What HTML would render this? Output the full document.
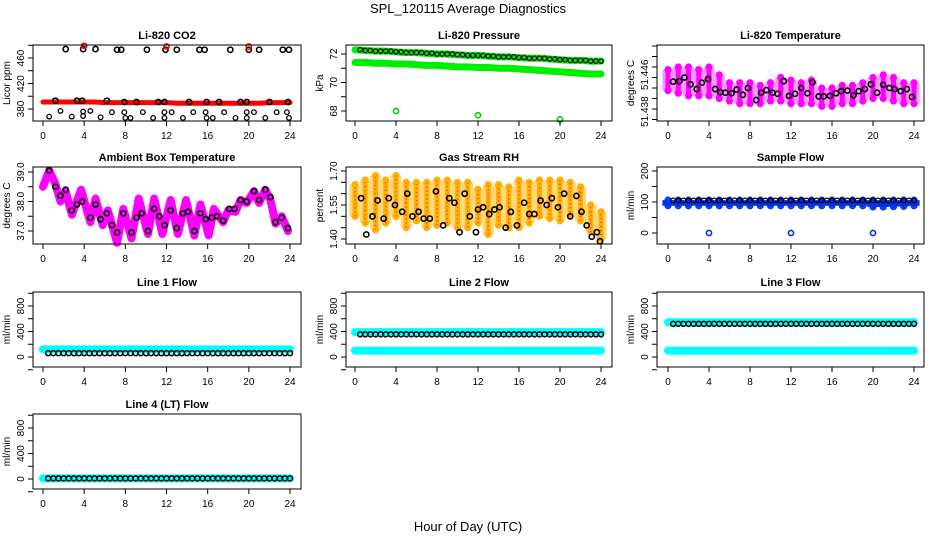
<!DOCTYPE html>
<html><head><meta charset="utf-8"><style>
html,body{margin:0;padding:0;background:#fff;}
svg{display:block;font-family:"Liberation Sans",sans-serif;}
</style></head><body>
<svg id="c" width="936" height="540" viewBox="0 0 936 540" xmlns="http://www.w3.org/2000/svg">
<text x="468" y="13" text-anchor="middle" font-size="13">SPL_120115  Average Diagnostics</text>
<text x="468" y="531" text-anchor="middle" font-size="13">Hour of Day (UTC)</text>
</svg>
<script>
// ---- data ----
const hoursTicks = [0,4,8,12,16,20,24];
// CO2
const co2RedBand = [391,391,391,391,391,391,390,390,390,390,390,390,390,389,389,389,389,389,389,389,389,389,390,390,390];
const co2TopH = [2.2,3.9,5.1,7.2,7.6,10.1,11.9,13,15.2,15.7,18.2,20,21,23.3,23.9];
const co2TopV = [474,474,474,473,473,473,473,473,473,473,473,473,473,473,473];
const co2RedH = [4,12,20];
const co2RedV = [479,478,478];
const co2MidH = [1.2,3.3,3.8,6.2,7.9,9.1,11.2,11.8,14.2,15.9,17.1,19.2,19.8,22,23.8];
const co2MidV = [393,393,393,393,391,391,391,391,391,391,391,391,391,391,391];
const co2LowH = [1.7,3.9,4.6,6.7,7.9,9.7,11.8,12.5,14.6,15.8,17.6,19.8,20.5,22.7,23.7,0.6,2.8,3.9,5.6,8.0,8.5,10.7,11.8,13.6,15.9,16.5,18.7,19.8,21.6,23.9];
const co2LowV = [377,376,377,375,375,375,375,375,375,375,375,375,375,375,375,368,368,369,367,366,366,366,366,366,366,366,366,366,366,366];
// Pressure
const presUpper = [72.3,72.25,72.2,72.2,72.15,72.1,72.1,72.05,72.0,72.0,71.95,71.9,71.9,71.85,71.8,71.8,71.75,71.7,71.7,71.65,71.6,71.55,71.55,71.5,71.5];
const presLower = [71.4,71.4,71.35,71.35,71.3,71.3,71.25,71.2,71.2,71.15,71.1,71.1,71.05,71.05,71.0,71.0,70.95,70.9,70.85,70.8,70.75,70.7,70.65,70.6,70.6];
const presOutH = [4,12,20];
const presOutV = [68.0,67.7,67.4];
// Li-820 temperature
const ltLow = [51.4415,51.441,51.4405,51.4405,51.4405,51.440,51.4395,51.439,51.439,51.439,51.4395,51.4395,51.439,51.439,51.439,51.4385,51.4385,51.439,51.439,51.4395,51.440,51.440,51.4395,51.439,51.439];
const ltHigh = [51.4455,51.446,51.446,51.4455,51.446,51.4445,51.443,51.443,51.443,51.4425,51.443,51.444,51.4435,51.443,51.4435,51.442,51.442,51.4425,51.4425,51.443,51.444,51.4445,51.444,51.443,51.443];
const ltBlkH = [0.5,1.1,1.6,2.2,2.8,3.3,3.9,4.6,5.1,5.6,6.2,6.7,7.3,7.8,8.6,9.1,9.6,10.2,10.7,11.3,11.8,12.4,13,13.6,14.1,14.7,15.2,15.8,16.4,16.9,17.5,18.1,18.6,19.2,19.8,20.4,21,21.6,22.1,22.7,23.3,23.8];
const ltBlkV = [51.4432,51.4433,51.4440,51.4427,51.4418,51.4430,51.4437,51.4418,51.4412,51.4411,51.4410,51.4417,51.4407,51.4420,51.4397,51.4411,51.4416,51.4411,51.4409,51.4433,51.4405,51.4409,51.4420,51.4410,51.4431,51.4404,51.4404,51.4405,51.4410,51.4414,51.4415,51.4406,51.4414,51.4418,51.4427,51.4411,51.4426,51.4420,51.4418,51.4414,51.4418,51.4403];
// Ambient box temperature
const ambH = [0,0.6,1.2,1.7,2.2,2.8,3.7,4.6,5.1,5.8,6.3,7.2,7.8,8.6,9.3,10.2,10.8,11.6,12.4,13.1,13.9,14.7,15.3,16.1,16.6,17.5,18,18.7,19.2,19.8,20.5,21,21.6,22.1,22.6,23.2,23.8];
const ambV = [38.5,39.05,38.6,38.0,38.35,37.55,38.4,37.3,38.1,37.2,37.7,36.6,37.75,36.75,38.1,36.9,38.1,36.9,38.05,36.9,38.05,36.85,37.9,36.85,37.75,37.3,37.7,37.65,38.05,37.95,38.35,37.95,38.4,38.05,37.25,37.5,37.0];
const ambBlkH = [0.6,1.2,1.7,2.2,2.8,3.3,3.8,4.6,5.1,5.6,6.2,6.7,7.2,7.8,8.6,9.1,9.6,10.2,10.8,11.3,11.8,12.4,13,13.6,14.1,14.7,15.3,15.8,16.4,16.9,17.5,18.1,18.6,19.2,19.8,20.5,21,21.6,22.1,22.6,23.2,23.8];
const ambBlkV = [39.05,38.5,38.2,38.4,37.7,37.9,38.0,37.45,37.9,37.4,37.6,37.2,36.95,37.6,36.95,37.45,37.6,37.0,37.75,37.5,37.2,37.7,37.1,37.6,37.65,37.0,37.6,37.4,37.45,37.5,37.35,37.75,37.75,38.05,38.0,38.35,38.05,38.4,38.15,37.3,37.45,37.1];
// Gas stream RH
const rhLow = [1.50,1.47,1.44,1.47,1.50,1.45,1.48,1.45,1.46,1.47,1.45,1.45,1.47,1.42,1.46,1.45,1.45,1.47,1.50,1.49,1.48,1.50,1.48,1.43,1.40];
const rhHigh = [1.64,1.66,1.68,1.66,1.68,1.65,1.65,1.65,1.66,1.66,1.65,1.65,1.62,1.64,1.64,1.63,1.66,1.65,1.66,1.66,1.66,1.65,1.63,1.55,1.52];
const rhBlkH = [0.6,1.1,1.7,2.2,2.8,3.3,3.9,4.6,5.1,5.6,6.2,6.7,7.3,7.9,8.6,9.2,9.7,10.2,10.7,11.2,11.8,12.0,12.5,13.1,13.6,14.1,14.7,15.2,15.8,16.5,17.0,17.5,18.1,18.7,19.2,19.8,20.4,21.0,21.6,22.1,22.6,23.1,23.6,23.9];
const rhBlkV = [1.58,1.42,1.50,1.57,1.49,1.58,1.55,1.52,1.60,1.50,1.52,1.49,1.49,1.61,1.46,1.58,1.56,1.43,1.60,1.50,1.43,1.53,1.54,1.51,1.53,1.54,1.45,1.52,1.46,1.56,1.51,1.51,1.57,1.55,1.58,1.54,1.60,1.50,1.59,1.52,1.46,1.41,1.43,1.39];
// Sample flow
const sfLow = [88,88,88,88,88,88,88,88,88,88,88,88,88,88,88,88,88,88,88,88,84,84,85,86,88];
const sfHigh = [106,106,106,106,106,106,106,106,106,106,106,106,106,106,106,106,106,106,106,106,106,106,106,106,106];
const sfBlkV = 105;
const sfOutH = [4,12,20];
const sfOutV = [0,0,0];
// Line flows
const l1Cyan = [120];     const l1Blk = 60;
const l2Cyan = [390,100]; const l2Blk = 355;
const l3Cyan = [545,100]; const l3Blk = 520;
const l4Cyan = [10];      const l4Blk = 10;

// ---- drawing helpers ----
const svg = document.getElementById('c');
const NS = 'http://www.w3.org/2000/svg';
function el(tag, attrs, parent){
  const e = document.createElementNS(NS, tag);
  for (const k in attrs) e.setAttribute(k, attrs[k]);
  (parent||svg).appendChild(e);
  return e;
}
const cols = [{l:33,r:301,x0:43,x24:290},{l:346,r:612,x0:355,x24:601},{l:657,r:924,x0:668,x24:914}];
const rows = [{t:45,b:121},{t:167,b:244},{t:292,b:367},{t:414,b:489}];

function panel(name, title, ylab, c, r, v1, p1, v2, p2, ticks, labels){
  const C = cols[c], R = rows[r];
  const g = el('g', {});
  
  
  const X = h => C.x0 + (C.x24 - C.x0) * h / 24;
  const Y = v => p1 + (p2 - p1) * (v - v1) / (v2 - v1);
  const t = el('text', {x:(C.l+C.r)/2, y:R.t-6, 'text-anchor':'middle', 'font-size':11, 'font-weight':'bold'}, g);
  t.textContent = title;
  
  
  const plot = el('g', {}, g);
  
  
  const box = el('rect', {x:C.l, y:R.t, width:C.r-C.l, height:R.b-R.t, fill:'none', stroke:'#000', 'stroke-width':1}, g);
  
  
  const xa = el('g', {}, g);
  
  
  hoursTicks.forEach(h => {
    el('line', {x1:X(h), x2:X(h), y1:R.b, y2:R.b+5, stroke:'#000'}, xa);
    const tt = el('text', {x:X(h), y:R.b+18, 'text-anchor':'middle', 'font-size':10}, xa);
    tt.textContent = h;
  });
  const ya = el('g', {}, g);
  
  
  ticks.forEach(v => el('line', {x1:C.l-5, x2:C.l, y1:Y(v), y2:Y(v), stroke:'#000'}, ya));
  labels.forEach(([v, s, off]) => {
    const yy = Y(v) + (off||0);
    const tt = el('text', {x:C.l-9, y:yy, 'text-anchor':'middle', 'font-size':10, transform:`rotate(-90 ${C.l-9} ${yy})`}, ya);
    tt.textContent = s;
  });
  const yl = el('text', {x:C.l-23, y:(R.t+R.b)/2, 'text-anchor':'middle', 'font-size':10, transform:`rotate(-90 ${C.l-23} ${(R.t+R.b)/2})`}, g);
  yl.textContent = ylab;
  
  
  return {X, Y, plot};
}
function circ(p, h, v, col, sw, r){
  el('circle', {cx:p.X(h), cy:p.Y(v), r:r||2.6, fill:'none', stroke:col, 'stroke-width':sw||1.6}, p.plot);
}
function band(p, arr, col, w){
  const pts = arr.map((v,i)=>p.X(i)+','+p.Y(v)).join(' ');
  el('polyline', {points:pts, fill:'none', stroke:col, 'stroke-width':w, 'stroke-linecap':'round', 'stroke-linejoin':'round'}, p.plot);
}
function range(p, lo, hi, col, w, fillCol){
  const step = p.X(1) - p.X(0);
  lo.forEach((v,i)=>{
    const x = p.X(i);
    el('line', {x1:x, x2:x, y1:p.Y(v), y2:p.Y(hi[i]), stroke:fillCol, 'stroke-width':step+1, 'stroke-linecap':'butt'}, p.plot);
  });
  lo.forEach((v,i)=>{
    const x = p.X(i);
    el('line', {x1:x, x2:x, y1:p.Y(v), y2:p.Y(hi[i]), stroke:col, 'stroke-width':w||6, 'stroke-linecap':'round'}, p.plot);
    circ(p, i, v, col, 1.6, 2.8);
    circ(p, i, hi[i], col, 1.6, 2.8);
  });
}

// CO2
let p = panel('co2', 'Li-820 CO2', 'Licor ppm', 0, 0, 460, 58, 380, 109, [380,400,420,440,460,480], [[380,'380'],[420,'420'],[460,'460']]);
band(p, co2RedBand, '#ff0000', 5);
co2TopH.forEach((h,i)=>circ(p,h,co2TopV[i],'#000'));
co2RedH.forEach((h,i)=>circ(p,h,co2RedV[i],'#ff0000'));
co2MidH.forEach((h,i)=>circ(p,h,co2MidV[i],'#000'));
co2LowH.forEach((h,i)=>circ(p,h,co2LowV[i],'#000',1.3,2.3));

// Pressure
p = panel('pressure', 'Li-820 Pressure', 'kPa', 1, 0, 72, 54, 68, 111, [68,69,70,71,72], [[72,'72'],[70,'70'],[68,'68']]);
band(p, presLower, '#00ee00', 7);
band(p, presUpper, '#00ee00', 7);
for (let i=0;i<48;i++){ const h=0.5+i*0.5; const k=Math.floor(h); circ(p,h,presUpper[Math.min(k,24)],'#000',1.2,2.2); }
presOutH.forEach((h,i)=>circ(p,h,presOutV[i],'#00cc00'));

// Li-820 temperature
p = panel('li820-temp', 'Li-820 Temperature', 'degrees C', 2, 0, 51.446, 67, 51.438, 109, [51.436,51.438,51.440,51.442,51.444,51.446,51.448,51.450], [[51.4445,'51.446'],[51.4375,'51.438']]);
range(p, ltLow, ltHigh, '#ff00ff', 5, '#ff99ff');
ltBlkH.forEach((h,i)=>circ(p,h,ltBlkV[i],'#000'));

// Ambient box temperature
p = panel('ambient-temp', 'Ambient Box Temperature', 'degrees C', 0, 1, 39, 172, 37, 231, [37,37.5,38,38.5,39], [[37,'37.0'],[38,'38.0'],[39,'39.0']]);
(function(){
  const pts = ambH.map((h,i)=>p.X(h)+','+p.Y(ambV[i])).join(' ');
  el('polyline', {points:pts, fill:'none', stroke:'#ff00ff', 'stroke-width':8, 'stroke-linejoin':'round', 'stroke-linecap':'round'}, p.plot);
})();
ambBlkH.forEach((h,i)=>circ(p,h,ambBlkV[i],'#000'));

// Gas stream RH
p = panel('gas-rh', 'Gas Stream RH', 'percent', 1, 1, 1.70, 171, 1.40, 239, [1.40,1.45,1.50,1.55,1.60,1.65,1.70], [[1.40,'1.40'],[1.55,'1.55'],[1.70,'1.70']]);
range(p, rhLow, rhHigh, '#ffb000', 5, '#ffd878');
for (let i=0;i<rhLow.length;i++){ el('line',{x1:p.X(i),x2:p.X(i),y1:p.Y(rhLow[i]),y2:p.Y(rhHigh[i]),stroke:'#ff3000','stroke-width':1.5,'stroke-dasharray':'1 3'},p.plot); }
rhBlkH.forEach((h,i)=>circ(p,h,rhBlkV[i],'#000'));

// Sample flow
p = panel('sample-flow', 'Sample Flow', 'ml/min', 2, 1, 200, 171, 0, 233, [0,50,100,150,200], [[0,'0'],[100,'100'],[200,'200']]);
range(p, sfLow, sfHigh, '#0033ee', 4, '#0033ee');
for (let i=0;i<48;i++) circ(p,0.5+i*0.5,sfBlkV,'#000',1.3,2.3);
sfOutH.forEach((h,i)=>circ(p,h,sfOutV[i],'#0033ee'));

// Line flows
const flowTicks = [-200,0,200,400,600,800,1000];
const flowLabels = [[0,'0'],[400,'400'],[800,'800']];
function flowPanel(name, title, c, r, cyan, blk){
  const R = rows[r];
  const pp = panel(name, title, 'ml/min', c, r, 0, R.b-10, 800, R.b-61, flowTicks, flowLabels);
  cyan.forEach(v => band(pp, new Array(25).fill(v), '#00ffff', 8));
  for (let i=0;i<48;i++) circ(pp, 0.5+i*0.5, blk, '#000', 1.5, 2.5);
}
flowPanel('line1-flow', 'Line 1 Flow', 0, 2, l1Cyan, l1Blk);
flowPanel('line2-flow', 'Line 2 Flow', 1, 2, l2Cyan, l2Blk);
flowPanel('line3-flow', 'Line 3 Flow', 2, 2, l3Cyan, l3Blk);
flowPanel('line4-flow', 'Line 4 (LT) Flow', 0, 3, l4Cyan, l4Blk);
</script>
</body></html>
